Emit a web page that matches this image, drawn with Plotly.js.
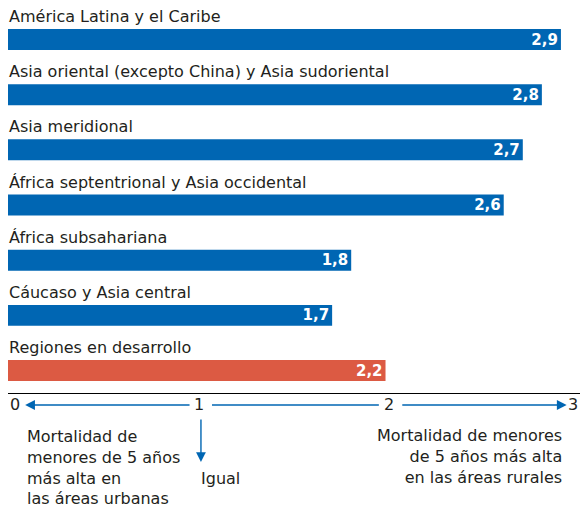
<!DOCTYPE html>
<html>
<head>
<meta charset="utf-8">
<script src="https://cdn.plot.ly/plotly-3.0.1.min.js"></script>
<style>
  html, body { margin: 0; padding: 0; background: #fff; }
  #chart { width: 581px; height: 507px; }
</style>
</head>
<body>
<div id="chart"></div>
<script>
var regions = [
  'América Latina y el Caribe',
  'Asia oriental (excepto China) y Asia sudoriental',
  'Asia meridional',
  'África septentrional y Asia occidental',
  'África subsahariana',
  'Cáucaso y Asia central',
  'Regiones en desarrollo'
];
// bar lengths as drawn in the picture
var ratios = [2.9, 2.8, 2.7, 2.6, 1.8, 1.7, 1.98];
var ratioLabels = ['2,9', '2,8', '2,7', '2,6', '1,8', '1,7', '2,2'];
var barColors = ['#0066b3', '#0066b3', '#0066b3', '#0066b3', '#0066b3', '#0066b3', '#dc5a43'];

var scaleTicks = [0, 1, 2, 3];
var scaleLabels = ['0', '1', '2', '3'];
var leftNote = 'Mortalidad de<br>menores de 5 años<br>más alta en<br>las áreas urbanas';
var midNote = 'Igual';
var rightNote = 'Mortalidad de menores<br>de 5 años más alta<br>en las áreas rurales';

var font = 'DejaVu Sans, sans-serif';
var textCol = '#231f20';
var blue = '#0066b3';

var trace = {
  type: 'bar',
  orientation: 'h',
  x: ratios,
  y: regions,
  width: 0.38,
  marker: {color: barColors},
  text: ratioLabels,
  textposition: 'inside',
  insidetextanchor: 'end',
  constraintext: 'none',
  textangle: 0,
  textfont: {family: font, size: 15, color: '#ffffff', weight: 'bold'},
  hoverinfo: 'none'
};

var annotations = [];
var shapes = [];

// region names above each bar
regions.forEach(function (r) {
  annotations.push({
    x: 0, y: r, xref: 'x', yref: 'y',
    text: r, showarrow: false,
    xanchor: 'left', yanchor: 'middle', yshift: 23, xshift: -1,
    font: {family: font, size: 16, color: textCol}
  });
});

// scale labels under the axis
var scaleY = -0.0305;
scaleTicks.forEach(function (t, i) {
  var anchor = 'center';
  if (i === 0) anchor = 'left';
  if (i === scaleTicks.length - 1) anchor = 'right';
  annotations.push({
    x: t, y: scaleY, xref: 'x', yref: 'paper',
    text: scaleLabels[i], showarrow: false,
    xanchor: anchor, yanchor: 'middle',
    font: {family: font, size: 16, color: textCol}
  });
});

// arrows along the scale
annotations.push({
  x: scaleTicks[0] + 0.09, y: scaleY, xref: 'x', yref: 'paper',
  ax: scaleTicks[1] - 0.04, ay: 0, axref: 'x', ayref: 'pixel',
  text: '', showarrow: true, arrowhead: 2, arrowsize: 1.4, arrowwidth: 1.4,
  arrowcolor: blue, standoff: 0
});
shapes.push({
  type: 'line', xref: 'x', yref: 'paper',
  x0: scaleTicks[1] + 0.07, x1: scaleTicks[2] - 0.055, y0: scaleY, y1: scaleY,
  line: {color: blue, width: 1.4}
});
annotations.push({
  x: scaleTicks[3] - 0.07, y: scaleY, xref: 'x', yref: 'paper',
  ax: scaleTicks[2] + 0.06, ay: 0, axref: 'x', ayref: 'pixel',
  text: '', showarrow: true, arrowhead: 2, arrowsize: 1.4, arrowwidth: 1.4,
  arrowcolor: blue, standoff: 0
});
// arrow down from 1
annotations.push({
  x: scaleTicks[1] + 0.012, y: -0.1756, xref: 'x', yref: 'paper',
  ax: 0, ay: -44, axref: 'pixel', ayref: 'pixel',
  text: '', showarrow: true, arrowhead: 2, arrowsize: 1.4, arrowwidth: 1.4,
  arrowcolor: blue, standoff: 0
});

// notes
annotations.push({
  x: 0.09, y: -0.1896, xref: 'x', yref: 'paper',
  text: leftNote, showarrow: false, align: 'left',
  xanchor: 'left', yanchor: 'middle',
  font: {family: font, size: 16, color: textCol}
});
annotations.push({
  x: scaleTicks[1], y: -0.2188, xref: 'x', yref: 'paper',
  text: midNote, showarrow: false, align: 'left',
  xanchor: 'left', yanchor: 'middle',
  font: {family: font, size: 16, color: textCol}
});
annotations.push({
  x: 2.916, y: -0.1628, xref: 'x', yref: 'paper',
  text: rightNote, showarrow: false, align: 'right',
  xanchor: 'right', yanchor: 'middle',
  font: {family: font, size: 16, color: textCol}
});

var layout = {
  width: 581,
  height: 507,
  margin: {l: 8, r: 1, t: 0, b: 114, pad: 0},
  paper_bgcolor: '#ffffff',
  plot_bgcolor: '#ffffff',
  showlegend: false,
  separators: ',.',
  font: {family: font, size: 16, color: textCol},
  xaxis: {
    range: [0, 3],
    showgrid: false,
    zeroline: false,
    showticklabels: false,
    ticks: '',
    showline: true,
    linecolor: '#000000',
    linewidth: 1,
    fixedrange: true
  },
  yaxis: {
    type: 'category',
    range: [6.407, -0.716],
    showgrid: false,
    zeroline: false,
    showticklabels: false,
    ticks: '',
    showline: false,
    fixedrange: true
  },
  annotations: annotations,
  shapes: shapes
};

Plotly.newPlot('chart', [trace], layout, {displayModeBar: false, staticPlot: true});
</script>
</body>
</html>
